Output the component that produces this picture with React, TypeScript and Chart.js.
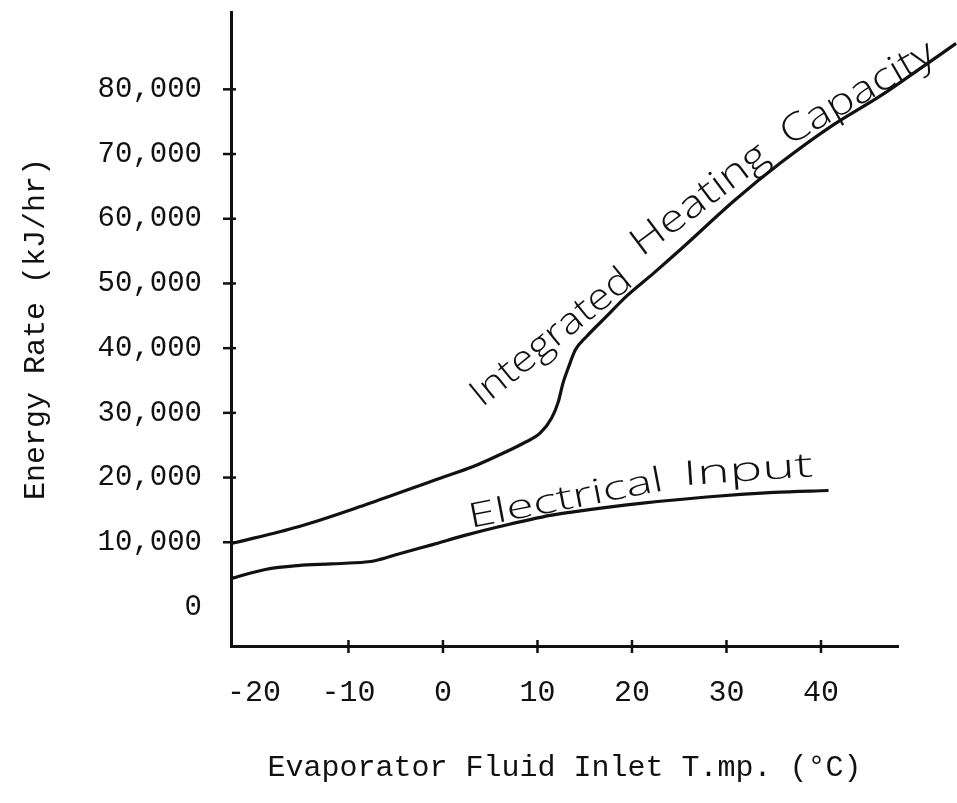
import { useEffect, useRef } from "react";
import { Chart, registerables } from "chart.js";

Chart.register(...registerables);

// ---- data ----
const xTickValues = [-20, -10, 0, 10, 20, 30, 40];
const yTickValues = [0, 10000, 20000, 30000, 40000, 50000, 60000, 70000, 80000];

const heatX = [-22.4, -15.3, -8.2, -0.3, 3.2, 6.7, 8.5, 10.3, 11.5, 12.2, 12.7, 13.3, 14.0, 15.2, 17.3, 19.4, 22.3, 25.1, 30.9, 35.7, 41.3, 46.2, 49.8, 54.3];
const heatY = [9800, 12400, 15800, 19900, 21700, 24000, 25300, 26900, 29200, 31700, 34600, 37100, 39700, 41800, 44900, 48000, 51600, 55200, 62900, 68600, 74500, 78900, 82500, 87100];

const elecX = [-22.4, -18.8, -15.3, -11.8, -8.2, -7.2, -4.7, -1.2, 2.4, 5.9, 11.5, 13.8, 20.9, 27.9, 35.0, 40.8];
const elecY = [4400, 5800, 6400, 6650, 6950, 7150, 8200, 9600, 11100, 12400, 14200, 14700, 16000, 17000, 17700, 18000];

const seriesNames = ["Integrated Heating Capacity", "Electrical Input"];

// ---- axis extent ----
const X_MIN = -22.43;
const X_MAX = 48.15;
const Y_MIN = -6030;
const Y_MAX = 91950;

// ---- hand-written notes along the curves (style config) ----
const NOTES = [
  { text: "Integrated", x: 11.5, y: 41600, angle: -39, width: 196, size: 37 },
  { text: "Heating", x: 27.2, y: 62900, angle: -37, width: 162, size: 38 },
  { text: "Capacity", x: 43.9, y: 79300, angle: -30, width: 172, size: 38 },
  { text: "Electrical", x: 13.0, y: 16600, angle: -11, width: 198, size: 34 },
  { text: "Input", x: 32.3, y: 21000, angle: -4, width: 130, size: 34 },
];

const INK = "#111111";
const MONO = "'Liberation Mono', 'DejaVu Sans Mono', monospace";

const crossTicks = {
  id: "crossTicks",
  afterDraw(chart: any) {
    const { ctx, scales, chartArea } = chart;
    const x = scales.x;
    const y = scales.y;
    ctx.save();
    ctx.strokeStyle = INK;
    ctx.lineWidth = 2.5;
    xTickValues.forEach((v, i) => {
      if (i === 0) return;
      const px = x.getPixelForValue(v);
      ctx.beginPath();
      ctx.moveTo(px, chartArea.bottom - 6);
      ctx.lineTo(px, chartArea.bottom + 7);
      ctx.stroke();
    });
    yTickValues.forEach((v, i) => {
      if (i === 0) return;
      const py = y.getPixelForValue(v);
      ctx.beginPath();
      ctx.moveTo(chartArea.left - 8, py);
      ctx.lineTo(chartArea.left + 5, py);
      ctx.stroke();
    });
    ctx.restore();
  },
};

const handNotes = {
  id: "handNotes",
  afterDatasetsDraw(chart: any) {
    const { ctx, scales } = chart;
    NOTES.forEach((n) => {
      const px = scales.x.getPixelForValue(n.x);
      const py = scales.y.getPixelForValue(n.y);
      ctx.save();
      ctx.translate(px, py);
      ctx.rotate((n.angle * Math.PI) / 180);
      ctx.font = `300 ${n.size}px 'Open Sans', 'Noto Sans', sans-serif`;
      const w = ctx.measureText(n.text).width || 1;
      ctx.scale(n.width / w, 1);
      ctx.textAlign = "center";
      ctx.textBaseline = "middle";
      ctx.fillStyle = INK;
      ctx.fillText(n.text, 0, 0);
      ctx.restore();
    });
  },
};

export default function App() {
  const canvasRef = useRef<HTMLCanvasElement | null>(null);

  useEffect(() => {
    document.body.style.margin = "0";
    document.body.style.background = "#ffffff";
    const canvas = canvasRef.current;
    if (!canvas) return;

    const chart = new Chart(canvas, {
      type: "line",
      data: {
        datasets: [
          {
            label: seriesNames[0],
            data: heatX.map((x, i) => ({ x, y: heatY[i] })),
            borderColor: INK,
            borderWidth: 3.2,
            pointRadius: 0,
            fill: false,
            cubicInterpolationMode: "monotone",
            clip: false,
          },
          {
            label: seriesNames[1],
            data: elecX.map((x, i) => ({ x, y: elecY[i] })),
            borderColor: INK,
            borderWidth: 3.2,
            pointRadius: 0,
            fill: false,
            cubicInterpolationMode: "monotone",
            clip: false,
          },
        ],
      },
      options: {
        animation: false,
        responsive: false,
        devicePixelRatio: 1,
        layout: { padding: { top: 12, right: 59, left: 0, bottom: 0 } },
        plugins: {
          legend: { display: false },
          tooltip: { enabled: false },
        },
        scales: {
          x: {
            type: "linear",
            bounds: "data",
            // range set after data limits so the curve may run past the axis end
            afterDataLimits: (s: any) => {
              s.min = X_MIN;
              s.max = X_MAX;
            },
            afterBuildTicks: (s: any) => {
              s.ticks = xTickValues.map((v) => ({ value: v }));
            },
            afterFit: (s: any) => {
              s.height = 157;
              s.paddingLeft = 0;
              s.paddingRight = 0;
            },
            grid: {
              display: true,
              drawOnChartArea: false,
              drawTicks: true,
              tickLength: 8,
              color: "rgba(0,0,0,0)",
              tickColor: "rgba(0,0,0,0)",
            },
            border: { display: true, color: INK, width: 3 },
            ticks: {
              color: INK,
              font: { family: MONO, size: 30 },
              padding: 21,
              maxRotation: 0,
              autoSkip: false,
              callback: (v: any) => String(v),
            },
            title: {
              display: true,
              text: "Evaporator Fluid Inlet T.mp. (°C)",
              color: INK,
              font: { family: MONO, size: 30 },
              padding: { top: 0, bottom: 17 },
            },
          },
          y: {
            type: "linear",
            min: Y_MIN,
            max: Y_MAX,
            afterBuildTicks: (s: any) => {
              s.ticks = yTickValues.map((v) => ({ value: v }));
            },
            afterFit: (s: any) => {
              s.width = 231;
              s.paddingTop = 0;
              s.paddingBottom = 0;
            },
            grid: {
              display: true,
              drawOnChartArea: false,
              drawTicks: true,
              tickLength: 8,
              color: "rgba(0,0,0,0)",
              tickColor: "rgba(0,0,0,0)",
            },
            border: { display: true, color: INK, width: 3 },
            ticks: {
              color: INK,
              font: { family: MONO, size: 29 },
              padding: 21,
              autoSkip: false,
              callback: (v: any) => Number(v).toLocaleString("en-US"),
            },
            title: {
              display: true,
              text: "Energy Rate (kJ/hr)",
              color: INK,
              font: { family: MONO, size: 30 },
              padding: { top: 18, bottom: 0 },
            },
          },
        },
      },
      plugins: [crossTicks, handNotes],
    });

    return () => chart.destroy();
  }, []);

  return (
    <div style={{ width: 957, height: 803, position: "relative", background: "#fff" }}>
      <canvas ref={canvasRef} width={957} height={803} />
    </div>
  );
}
